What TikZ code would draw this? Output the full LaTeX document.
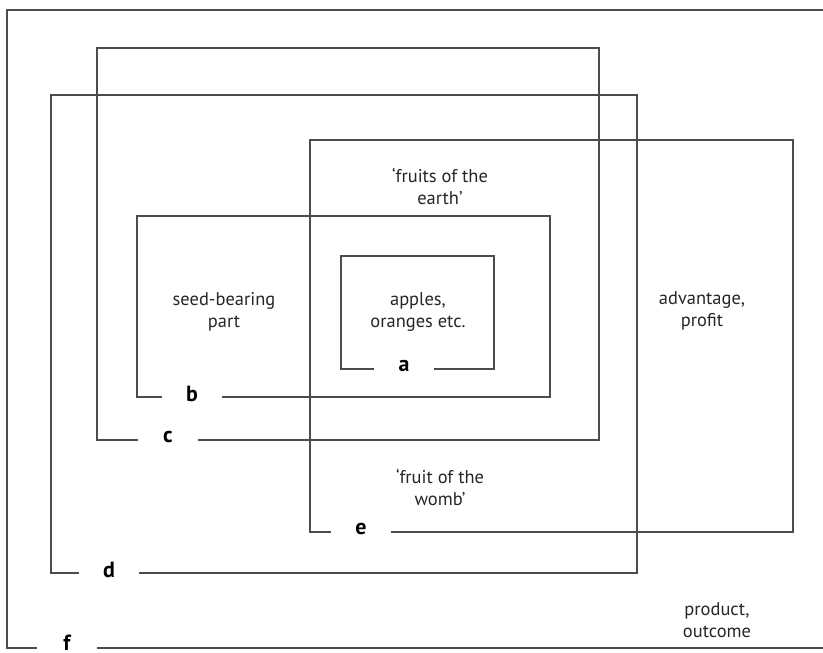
\documentclass[tikz,border=0pt]{standalone}
\usepackage{fontspec}
\setmainfont{PT Sans}
\usepackage{tikz}

\begin{document}
\begin{tikzpicture}[
    x=0.02cm, y=-0.02cm,
    frame/.style={draw=black!70, line width=0.65pt},
    tag/.style={fill=white, minimum width=1.2cm, inner ysep=1pt, font=\fontsize{12.5}{13}\selectfont\bfseries, text=black},
    note/.style={align=center, font=\fontsize{10.5}{12.6}\selectfont, text=black!85}
  ]
    \useasboundingbox (0,0) rectangle (823,653);

    % nested frames
    \draw[frame] (7,10) rectangle (830,648);
    \draw[frame] (97,48) rectangle (599,440);
    \draw[frame] (51,95) rectangle (637,573);
    \draw[frame] (310,140) rectangle (793,532);
    \draw[frame] (137,216) rectangle (550,397);
    \draw[frame] (341,256) rectangle (494,369);

    % letters on the bottom edges
    \node[tag] (fa) at (404,366) {a};
    \node[tag] (fb) at (192,394) {b};
    \node[tag] (fc) at (168,437) {c};
    \node[tag] (fd) at (109,570) {d};
    \node[tag] (fe) at (361,529) {e};
    \node[tag, anchor=base, text depth=2pt] (ff) at (67,650) {f};

    % meanings
    \node[note] (apples) at (418,312) {apples,\\oranges etc.};
    \node[note] (seed) at (224,312) {seed-bearing\\part};
    \node[note] (earth) at (440,186) {‘fruits of the\\earth’};
    \node[note] (womb) at (440,487) {‘fruit of the\\womb’};
    \node[note] (profit) at (702,311) {advantage,\\profit};
    \node[note] (outcome) at (717,620) {product,\\outcome};
  \end{tikzpicture}
\end{document}
